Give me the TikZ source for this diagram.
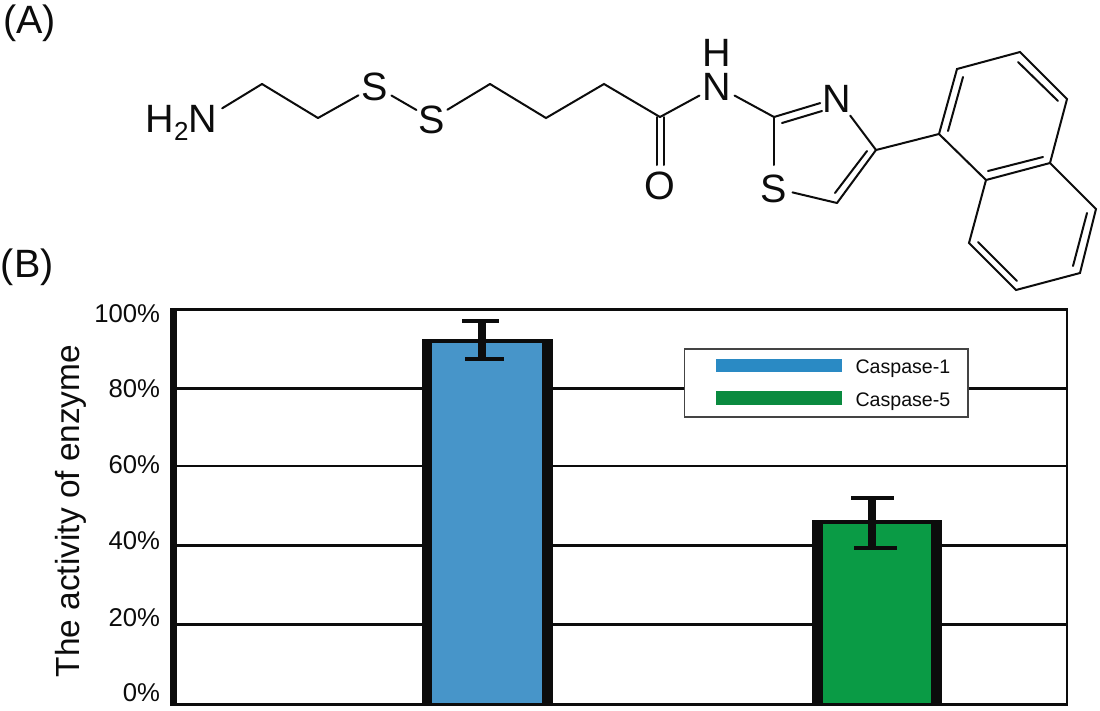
\documentclass[tikz,border=0pt]{standalone}
\usepackage{fontspec}
\setmainfont{Liberation Sans}
\definecolor{barblue}{HTML}{4795C9}
\definecolor{bargreen}{HTML}{0A9B45}
\definecolor{legblue}{HTML}{2A8AC4}
\definecolor{leggreen}{HTML}{0A8A3F}
\definecolor{ink}{HTML}{0C0C0C}
\definecolor{legedge}{HTML}{444444}
\newcommand{\fs}[1]{\fontsize{#1}{#1}\selectfont}
\tikzset{
  bond/.style={draw=ink,line width=2pt,line cap=round,line join=miter},
  atom/.style={inner sep=0pt,outer sep=0pt,text=ink,font=\fs{39.5},anchor=center,text height=28.3pt,text depth=0pt},
  panel/.style={inner sep=0pt,outer sep=0pt,text=ink,font=\fs{39.5}},
  tick/.style={inner sep=0pt,outer sep=0pt,text=ink,font=\fs{25.7},anchor=east,text height=18.6pt,text depth=0pt},
  grid/.style={draw=ink,line width=2.8pt},
  ebar/.style={draw=ink,line width=3.4pt},
  estem/.style={draw=ink,line width=7.5pt},
  legtext/.style={inner sep=0pt,outer sep=0pt,text=ink,font=\fs{19.6},anchor=base west},
}
\begin{document}
\begin{tikzpicture}[x=1pt,y=-1pt]
\useasboundingbox (0,0) rectangle (1100,710);
\fill[white] (0,0) rectangle (1100,710);
% panel labels
\node[panel,anchor=west] (lblA) at (3,23) {(A)};
\node[panel,anchor=west] (lblB) at (1,267) {(B)};
% atoms
\node[atom,anchor=base east,text height=,text depth=] (amine) at (217,132.5) {H\raisebox{-0.2em}{\fs{26}2}N};
\coordinate (Na) at (205.5,118.5);
\node[atom] (S1) at (375,86) {S};
\node[atom] (S2) at (432,119) {S};
\node[atom] (O) at (660,185) {O};
\node[atom] (N1) at (717,86) {N};
\node[atom] (H1) at (717,52.5) {H};
\node[atom] (N2) at (837,98) {N};
\node[atom] (S3) at (774,188) {S};
% carbons
\coordinate (c1) at (262,84);
\coordinate (c2) at (318,118);
\coordinate (c3) at (490,84);
\coordinate (c4) at (546,118);
\coordinate (c5) at (604,84);
\coordinate (c6) at (660,117);
\coordinate (c6a) at (656.5,117);
\coordinate (c6b) at (664,117);
\coordinate (oa) at (656.5,165);
\coordinate (ob) at (664,165);
\coordinate (t2) at (774,117);
\coordinate (t4) at (876,150);
\coordinate (t5) at (837,203);
\coordinate (dna) at (782,123);
\coordinate (dnb) at (822,111);
\coordinate (dca) at (867,151);
\coordinate (dcb) at (835,193);
\coordinate (A) at (939,134);
\coordinate (B) at (957,69);
\coordinate (C) at (1020,52);
\coordinate (D) at (1067,99);
\coordinate (E) at (1050,163);
\coordinate (F) at (986,180);
\coordinate (G) at (1096,209);
\coordinate (H) at (1080,273);
\coordinate (I) at (1016,290);
\coordinate (J) at (969,243);
\coordinate (ab1) at (948,131);
\coordinate (ab2) at (963,77);
\coordinate (cd1) at (1018,62);
\coordinate (cd2) at (1058,101);
\coordinate (ef1) at (1043,157);
\coordinate (ef2) at (988,171);
\coordinate (gh1) at (1087,213);
\coordinate (gh2) at (1073,266);
\coordinate (ij1) at (1017,281);
\coordinate (ij2) at (978,242);
% bonds
\draw[bond,shorten <=19.5pt] (Na) -- (c1);
\draw[bond] (c1) -- (c2);
\draw[bond,shorten >=19pt] (c2) -- (S1.center);
\draw[bond,shorten <=19pt,shorten >=18pt] (S1.center) -- (S2.center);
\draw[bond,shorten <=18pt] (S2.center) -- (c3);
\draw[bond] (c3) -- (c4) -- (c5) -- (c6);
\draw[bond,shorten >=20pt] (c6) -- (N1.center);
\draw[bond] (c6a) -- (oa);
\draw[bond] (c6b) -- (ob);
\draw[bond,shorten <=20pt] (N1.center) -- (t2);
\draw[bond,shorten >=17.5pt] (t2) -- (N2.center);
\draw[bond] (dna) -- (dnb);
\draw[bond,shorten <=22pt] (N2.center) -- (t4);
\draw[bond] (t4) -- (t5);
\draw[bond] (dca) -- (dcb);
\draw[bond,shorten >=19pt] (t5) -- (S3.center);
\draw[bond,shorten >=23pt] (t2) -- (S3.center);
\draw[bond] (t4) -- (A);
\draw[bond] (A) -- (B) -- (C) -- (D) -- (E) -- (F) -- cycle;
\draw[bond] (E) -- (G) -- (H) -- (I) -- (J) -- (F);
\draw[bond] (ab1) -- (ab2);
\draw[bond] (cd1) -- (cd2);
\draw[bond] (ef1) -- (ef2);
\draw[bond] (gh1) -- (gh2);
\draw[bond] (ij1) -- (ij2);
% chart grid
\draw[grid] (173,388.5) -- (1066,388.5);
\draw[grid] (173,466) -- (1066,466);
\draw[grid] (173,545.5) -- (1066,545.5);
\draw[grid] (173,624.5) -- (1066,624.5);
% frame
\draw[grid] (170,309.5) -- (1067,309.5) -- (1067,704.5) -- (170,704.5);
\fill[ink] (169.5,308.1) rectangle (177,705.9);
% bars
\fill[ink] (422,339) rectangle (553,705.9);
\fill[barblue] (431.5,343) rectangle (542,703);
\fill[ink] (812,520) rectangle (942,705.9);
\fill[bargreen] (823,524) rectangle (931,703);
% error bars
\draw[estem] (482,321) -- (482,359);
\draw[ebar] (462,321) -- (499,321);
\draw[ebar] (465,359) -- (504,359);
\draw[estem] (872,498) -- (872,548);
\draw[ebar] (851,498) -- (894,498);
\draw[ebar] (854,548) -- (897,548);
% tick labels
\node[tick] (t100) at (160,313) {100\%};
\node[tick] (t80) at (160,388) {80\%};
\node[tick] (t60) at (160,464) {60\%};
\node[tick] (t40) at (160,540) {40\%};
\node[tick] (t20) at (160,617) {20\%};
\node[tick] (t0) at (160,692) {0\%};
\node[inner sep=0pt,text=ink,font=\fs{33.4},rotate=90,anchor=base] (ylab) at (79.5,511) {The activity of enzyme};
% legend
\draw[draw=legedge,line width=1.5pt,fill=white] (684.5,349) rectangle (968,417);
\fill[legblue] (716,359) rectangle (842,372);
\fill[leggreen] (716,391) rectangle (842,405);
\node[legtext] (leg1) at (855.5,373) {Caspase-1};
\node[legtext] (leg5) at (855.5,406) {Caspase-5};
\end{tikzpicture}
\end{document}
